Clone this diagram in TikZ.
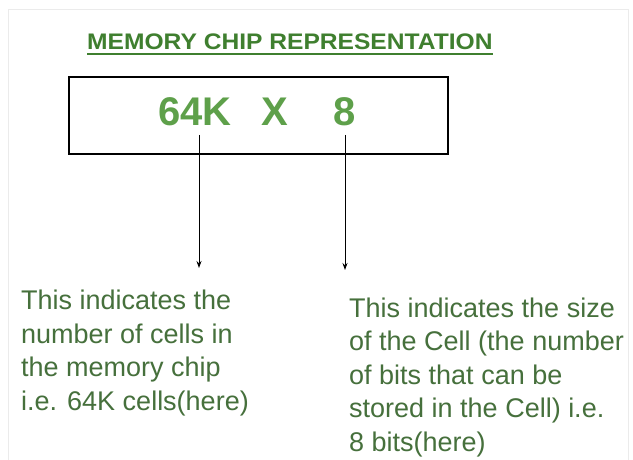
\documentclass[tikz,border=0pt]{standalone}
\usepackage{fontspec}
\usepackage{graphicx}
\setmainfont{Liberation Sans}
\usetikzlibrary{arrows.meta}
\definecolor{titlegreen}{HTML}{3F7F2F}
\definecolor{chipgreen}{HTML}{5EA04A}
\definecolor{bodygreen}{HTML}{46703C}
\tikzset{
  chiptext/.style={inner sep=0pt, text=chipgreen, font=\fontsize{40}{40}\selectfont\bfseries},
  bodytext/.style={inner sep=0pt, text=bodygreen, align=left, anchor=base west,
    font=\fontsize{27}{33.5}\selectfont},
  pointer/.style={draw=black, line width=0.9pt, -{Stealth[length=7pt,width=5pt]}}
}
\begin{document}
\begin{tikzpicture}[x=1pt,y=1pt]
\useasboundingbox (0,0) rectangle (633,-460);
\fill[white] (0,0) rectangle (633,-460);
\draw[black!8, line width=1pt] (8,-470) -- (8,-10) -- (628,-10) -- (628,-470);
% title
\node[inner sep=0pt, anchor=base west, text=titlegreen,
  font=\fontsize{22.5}{22.5}\selectfont\bfseries] (title) at (87,-50)
  {\scalebox{1.093}[1]{MEMORY CHIP REPRESENTATION}};
\draw[titlegreen, line width=1.6pt] ([yshift=-4.3pt]title.base west) -- ([yshift=-4.3pt]title.base east);
% box
\node[draw=black, line width=2.2pt, minimum width=379pt, minimum height=77pt,
  inner sep=0pt, anchor=north west] (box) at (68,-76) {};
\node[chiptext, anchor=base west] (n64) at (158,-126) {64K};
\node[chiptext, anchor=base] (nx) at (275,-126) {X};
\node[chiptext, anchor=base] (n8) at (345,-126) {8};
% pointers
\coordinate (s1) at (199,-135);
\coordinate (e1) at (199,-268);
\coordinate (s2) at (345,-135);
\coordinate (e2) at (345,-270);
\draw[pointer] (s1) -- (e1);
\draw[pointer] (s2) -- (e2);
% descriptions (base anchor = baseline of last line)
\node[bodytext] (left) at (21,-410)
  {This indicates the\\number of cells in\\the memory chip\\i.e. 64K cells(here)};
\node[bodytext] (right) at (349,-451)
  {This indicates the size\\of the Cell (the number\\of bits that can be\\stored in the Cell) i.e.\\8 bits(here)};
\end{tikzpicture}
\end{document}
